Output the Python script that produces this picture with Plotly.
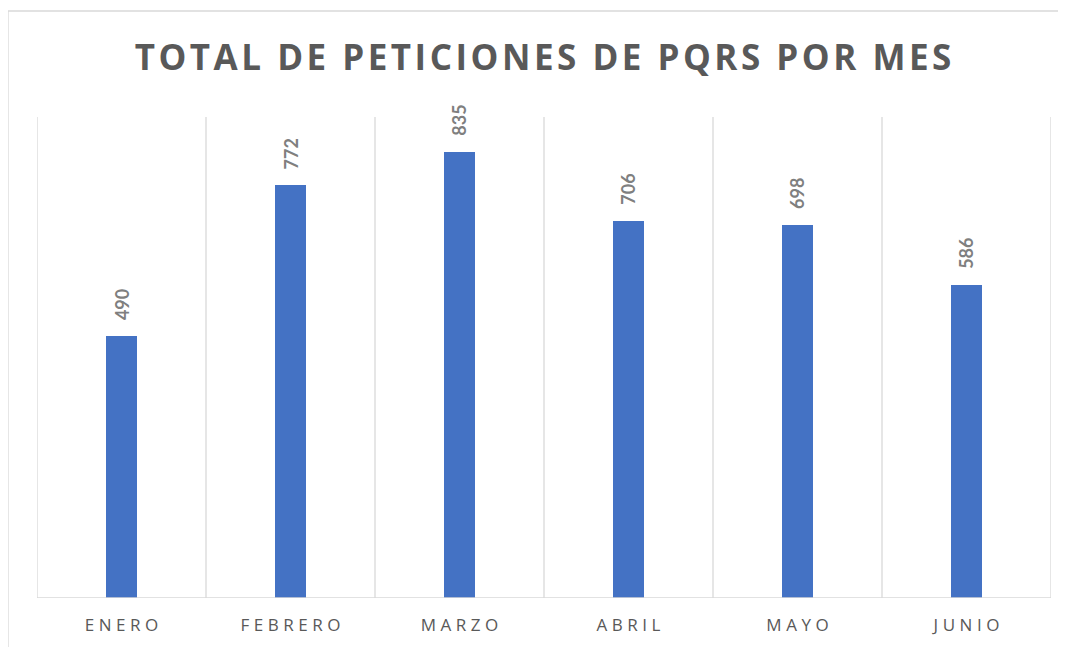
import plotly.graph_objects as go

months = ["ENERO", "FEBRERO", "MARZO", "ABRIL", "MAYO", "JUNIO"]
values = [490, 772, 835, 706, 698, 586]
title_text = "TOTAL DE PETICIONES DE PQRS POR MES"

def spaced(s, sep="\u2009"):
    return sep.join(list(s))

# page body has an 8px margin; work in figure coordinates = reference - 8
OFF = 8
W, H = 1066, 647
L, T = 37 - OFF, 117 - OFF
pw, ph = 1014, 481
R = W - L - pw
B = H - T - ph

def px2x(px):
    return (px - OFF - L) / pw

def py2y(py):
    return (T + ph - (py - OFF)) / ph

fig = go.Figure()
fig.add_trace(go.Bar(
    x=list(range(len(months))), y=values,
    marker=dict(color="#4472C4", line=dict(width=0)),
    width=0.185,
    hoverinfo="skip",
))

for i, v in enumerate(values):
    fig.add_annotation(
        x=i, y=v, xref="x", yref="y", text=str(v), showarrow=False,
        textangle=-90, yanchor="bottom", yshift=14,
        font=dict(family="Lato, Open Sans, sans-serif", size=18, color="#7F7F7F", weight="bold"),
    )

shapes = []
for k in range(len(months) + 1):
    shapes.append(dict(type="line", xref="x", yref="y", x0=k - 0.5, x1=k - 0.5, y0=0, y1=900,
                       line=dict(color="#D9D9D9", width=1.3), layer="below"))
shapes.append(dict(type="line", xref="x", yref="y", x0=-0.5, x1=len(months) - 0.5, y0=0, y1=0,
                   line=dict(color="#D9D9D9", width=1.3), layer="above"))
# chart border
shapes.append(dict(type="line", xref="paper", yref="paper", x0=px2x(8), x1=px2x(1090),
                   y0=py2y(11), y1=py2y(11), line=dict(color="#D9D9D9", width=1.3)))
shapes.append(dict(type="line", xref="paper", yref="paper", x0=px2x(8), x1=px2x(8),
                   y0=py2y(11), y1=py2y(680), line=dict(color="#D9D9D9", width=1.3)))

fig.update_layout(
    width=W, height=H,
    margin=dict(l=L, r=R, t=T, b=B),
    paper_bgcolor="white", plot_bgcolor="white",
    shapes=shapes,
    showlegend=False,
    bargap=0,
    title=dict(text=spaced(title_text, "\u200a"), x=px2x(543) * pw / W + L / W, xanchor="center",
               y=1 - (58 - OFF) / H, yanchor="middle", yref="container", xref="container",
               font=dict(family="Open Sans, sans-serif", size=35, color="#595959", weight="bold")),
    xaxis=dict(range=[-0.5, len(months) - 0.5], tickmode="array",
               tickvals=list(range(len(months))), ticktext=[spaced(m, "\u2009\u200a") for m in months],
               showgrid=False, zeroline=False, showline=False, ticks="outside", ticklen=12,
               tickcolor="rgba(0,0,0,0)",
               tickfont=dict(family="Open Sans, sans-serif", size=17, color="#595959")),
    yaxis=dict(range=[0, 900], visible=False, showgrid=False, zeroline=False),
)

fig.write_html("out.html")
